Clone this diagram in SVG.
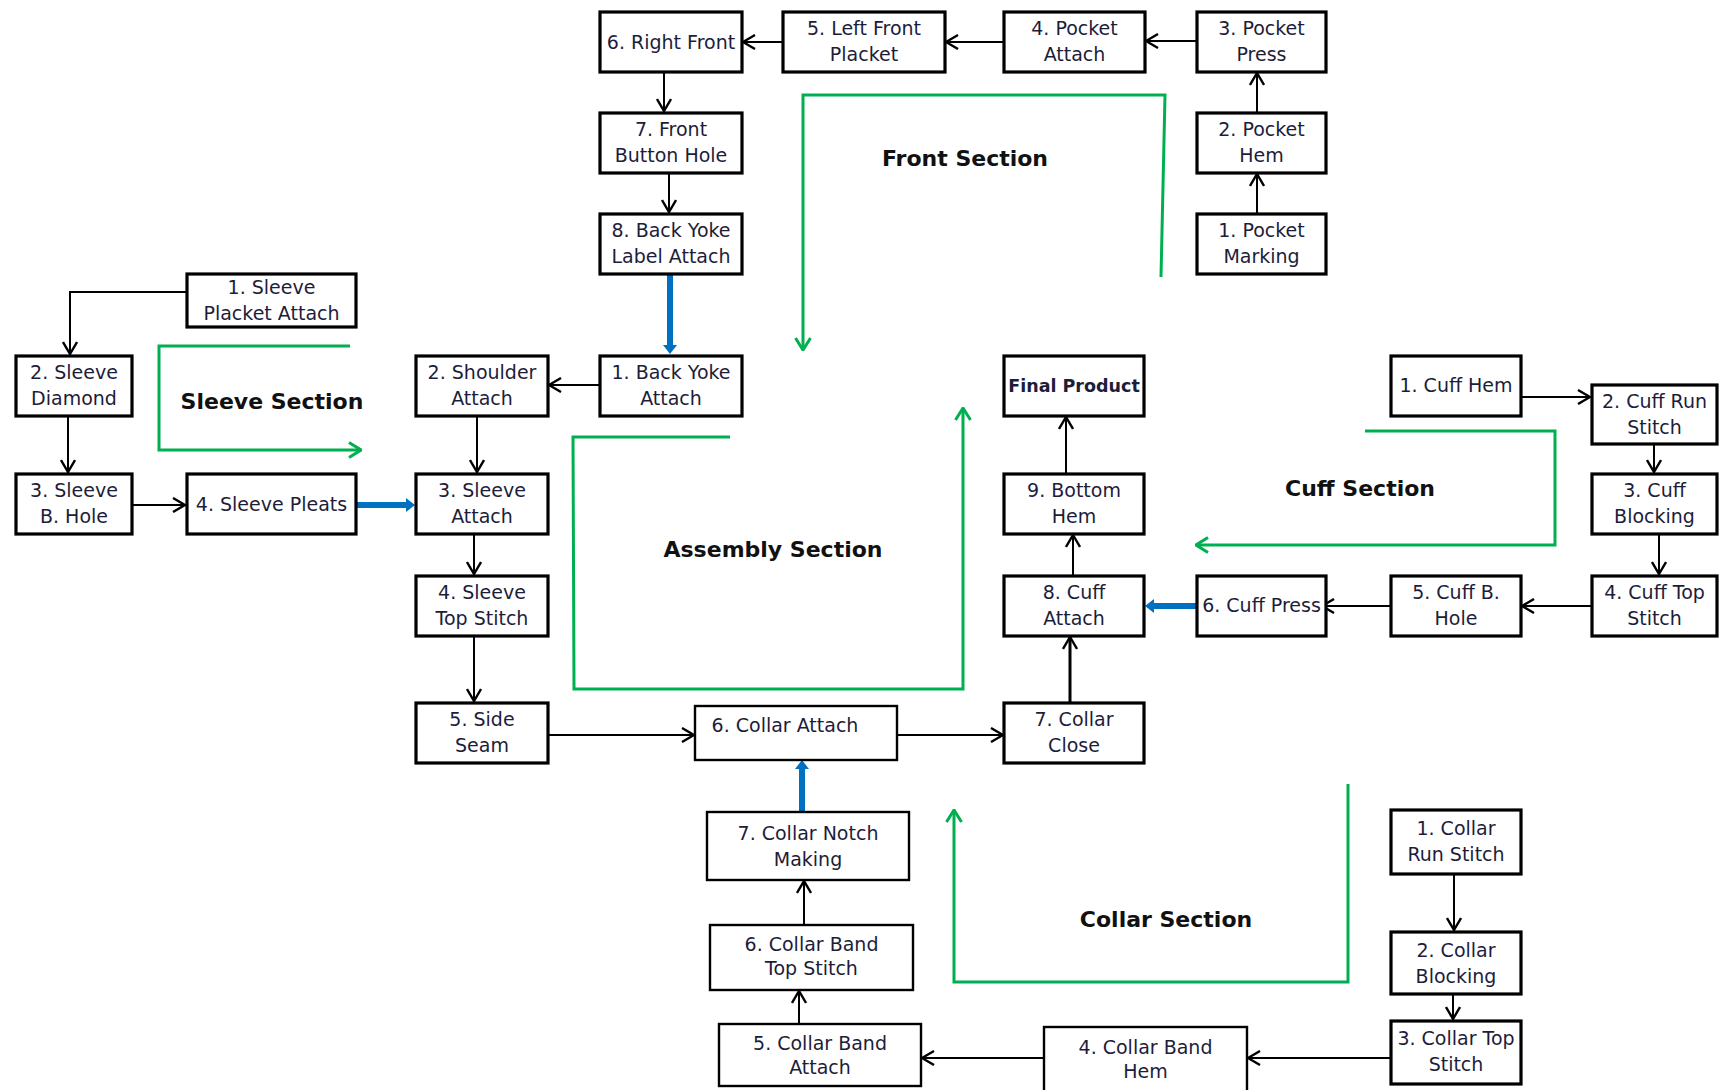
<svg xmlns="http://www.w3.org/2000/svg" width="1720" height="1090" viewBox="0 0 1720 1090">
  <style>
    .box { fill: #fff; stroke: #000; stroke-width: 3.2; }
    .thin { stroke-width: 2.4; }
    .lbl { font-family: "DejaVu Sans", "Liberation Sans", sans-serif; font-size: 19px; fill: #1d1d3a; text-anchor: middle; }
    .bold { font-weight: bold; font-size: 17.5px; }
    .ttl { font-family: "DejaVu Sans", "Liberation Sans", sans-serif; font-size: 22px; font-weight: bold; fill: #111; text-anchor: middle; }
    .ln { fill: none; stroke: #000; stroke-width: 2; marker-end: url(#ah); }
    .ln3 { stroke-width: 3; }
    .blue { fill: none; stroke: #0070C0; stroke-width: 6; marker-end: url(#bh); }
    .grn { fill: none; stroke: #00B050; stroke-width: 3; }
    .grna { marker-end: url(#gh); }
  </style>
  <defs>
    <marker id="ah" viewBox="0 0 14 16" refX="13" refY="8" markerWidth="14" markerHeight="16" markerUnits="userSpaceOnUse" orient="auto">
      <path d="M1,1 L13,8 L1,15" fill="none" stroke="#000" stroke-width="2.4"/>
    </marker>
    <marker id="gh" viewBox="0 0 14 18" refX="13" refY="9" markerWidth="14" markerHeight="18" markerUnits="userSpaceOnUse" orient="auto">
      <path d="M1,1.5 L13,9 L1,16.5" fill="none" stroke="#00B050" stroke-width="3"/>
    </marker>
    <marker id="bh" viewBox="0 0 9 16" refX="0" refY="8" markerWidth="9" markerHeight="16" markerUnits="userSpaceOnUse" orient="auto">
      <path d="M0,1 L9,8 L0,15 z" fill="#0070C0"/>
    </marker>
  </defs>

  <!-- section outlines and titles -->
  <g id="sections">
    <path class="grn grna" d="M1161,277 L1165,95 H803 V350"/>
    <path class="grn grna" d="M350,346 H159 V450 H361"/>
    <path class="grn grna" d="M730,437 H573 L574,689 H963 V408"/>
    <path class="grn grna" d="M1365,431 H1555 V545 H1196"/>
    <path class="grn grna" d="M1348,784 V982 H954 V810"/>
    <text class="ttl" x="965" y="166">Front Section</text>
    <text class="ttl" x="272" y="409">Sleeve Section</text>
    <text class="ttl" x="773" y="557">Assembly Section</text>
    <text class="ttl" x="1360" y="496">Cuff Section</text>
    <text class="ttl" x="1166" y="927">Collar Section</text>
  </g>

  <!-- connectors -->
  <g id="connectors">
    <!-- front -->
    <path class="ln" d="M1257,214 V174"/>
    <path class="ln" d="M1257,113 V73"/>
    <path class="ln" d="M1197,41 H1146"/>
    <path class="ln" d="M1004,42 H946"/>
    <path class="ln" d="M783,42 H743"/>
    <path class="ln" d="M664,72 V111"/>
    <path class="ln" d="M669,173 V212"/>
    <path class="blue" d="M670,274 V345"/>
    <!-- assembly -->
    <path class="ln" d="M600,385 H549"/>
    <path class="ln" d="M477,416 V472"/>
    <path class="ln" d="M474,534 V574"/>
    <path class="ln" d="M474,636 V701"/>
    <path class="ln" d="M548,735 H694"/>
    <path class="ln" d="M897,735 H1003"/>
    <path class="ln ln3" d="M1070,703 V637"/>
    <path class="ln" d="M1073,576 V535"/>
    <path class="ln" d="M1066,474 V417"/>
    <!-- sleeve -->
    <path class="ln" d="M187,292 H70 V354"/>
    <path class="ln" d="M68,416 V472"/>
    <path class="ln" d="M132,505 H185"/>
    <path class="blue" d="M356,505 H406"/>
    <!-- cuff -->
    <path class="ln" d="M1521,397 H1590"/>
    <path class="ln" d="M1654,444 V472"/>
    <path class="ln" d="M1659,534 V574"/>
    <path class="ln" d="M1592,606 H1522"/>
    <path class="ln" d="M1391,606 H1322"/>
    <path class="blue" d="M1197,606 H1154"/>
    <!-- collar -->
    <path class="ln" d="M1454,874 V930"/>
    <path class="ln" d="M1453,994 V1019"/>
    <path class="ln" d="M1391,1058 H1248"/>
    <path class="ln" d="M1044,1058 H922"/>
    <path class="ln" d="M799,1024 V991"/>
    <path class="ln" d="M804,925 V881"/>
    <path class="blue" d="M802,812 V769"/>
  </g>

  <!-- front section -->
  <g id="f6"><rect class="box" x="600" y="12" width="142" height="60"/><text class="lbl" x="671" y="49">6. Right Front</text></g>
  <g id="f5"><rect class="box" x="783" y="12" width="162" height="60"/><text class="lbl" x="864" y="35">5. Left Front</text><text class="lbl" x="864" y="61">Placket</text></g>
  <g id="f4"><rect class="box" x="1004" y="12" width="141" height="60"/><text class="lbl" x="1074.5" y="35">4. Pocket</text><text class="lbl" x="1074.5" y="61">Attach</text></g>
  <g id="f3"><rect class="box" x="1197" y="12" width="129" height="60"/><text class="lbl" x="1261.5" y="35">3. Pocket</text><text class="lbl" x="1261.5" y="61">Press</text></g>
  <g id="f2"><rect class="box" x="1197" y="113" width="129" height="60"/><text class="lbl" x="1261.5" y="136">2. Pocket</text><text class="lbl" x="1261.5" y="162">Hem</text></g>
  <g id="f1"><rect class="box" x="1197" y="214" width="129" height="60"/><text class="lbl" x="1261.5" y="237">1. Pocket</text><text class="lbl" x="1261.5" y="263">Marking</text></g>
  <g id="f7"><rect class="box" x="600" y="113" width="142" height="60"/><text class="lbl" x="671" y="136">7. Front</text><text class="lbl" x="671" y="162">Button Hole</text></g>
  <g id="f8"><rect class="box" x="600" y="214" width="142" height="60"/><text class="lbl" x="671" y="237">8. Back Yoke</text><text class="lbl" x="671" y="263">Label Attach</text></g>

  <!-- assembly section -->
  <g id="a1"><rect class="box" x="600" y="356" width="142" height="60"/><text class="lbl" x="671" y="379">1. Back Yoke</text><text class="lbl" x="671" y="405">Attach</text></g>
  <g id="a2"><rect class="box" x="416" y="356" width="132" height="60"/><text class="lbl" x="482" y="379">2. Shoulder</text><text class="lbl" x="482" y="405">Attach</text></g>
  <g id="a3"><rect class="box" x="416" y="474" width="132" height="60"/><text class="lbl" x="482" y="497">3. Sleeve</text><text class="lbl" x="482" y="523">Attach</text></g>
  <g id="a4"><rect class="box" x="416" y="576" width="132" height="60"/><text class="lbl" x="482" y="599">4. Sleeve</text><text class="lbl" x="482" y="625">Top Stitch</text></g>
  <g id="a5"><rect class="box" x="416" y="703" width="132" height="60"/><text class="lbl" x="482" y="726">5. Side</text><text class="lbl" x="482" y="752">Seam</text></g>
  <g id="a6"><rect class="box thin" x="695" y="706" width="202" height="54"/><text class="lbl" x="785" y="732">6. Collar Attach</text></g>
  <g id="a7"><rect class="box" x="1004" y="703" width="140" height="60"/><text class="lbl" x="1074" y="726">7. Collar</text><text class="lbl" x="1074" y="752">Close</text></g>
  <g id="a8"><rect class="box" x="1004" y="576" width="140" height="60"/><text class="lbl" x="1074" y="599">8. Cuff</text><text class="lbl" x="1074" y="625">Attach</text></g>
  <g id="a9"><rect class="box" x="1004" y="474" width="140" height="60"/><text class="lbl" x="1074" y="497">9. Bottom</text><text class="lbl" x="1074" y="523">Hem</text></g>
  <g id="final"><rect class="box" x="1004" y="356" width="140" height="60"/><text class="lbl bold" x="1074" y="392">Final Product</text></g>

  <!-- sleeve section -->
  <g id="s1"><rect class="box" x="187" y="274" width="169" height="53"/><text class="lbl" x="271.5" y="294">1. Sleeve</text><text class="lbl" x="271.5" y="320">Placket Attach</text></g>
  <g id="s2"><rect class="box" x="16" y="356" width="116" height="60"/><text class="lbl" x="74" y="379">2. Sleeve</text><text class="lbl" x="74" y="405">Diamond</text></g>
  <g id="s3"><rect class="box" x="16" y="474" width="116" height="60"/><text class="lbl" x="74" y="497">3. Sleeve</text><text class="lbl" x="74" y="523">B. Hole</text></g>
  <g id="s4"><rect class="box" x="187" y="474" width="169" height="60"/><text class="lbl" x="271.5" y="511">4. Sleeve Pleats</text></g>

  <!-- cuff section -->
  <g id="c1"><rect class="box" x="1391" y="356" width="130" height="60"/><text class="lbl" x="1456" y="392">1. Cuff Hem</text></g>
  <g id="c2"><rect class="box" x="1592" y="385" width="125" height="59"/><text class="lbl" x="1654.5" y="408">2. Cuff Run</text><text class="lbl" x="1654.5" y="434">Stitch</text></g>
  <g id="c3"><rect class="box" x="1592" y="474" width="125" height="60"/><text class="lbl" x="1654.5" y="497">3. Cuff</text><text class="lbl" x="1654.5" y="523">Blocking</text></g>
  <g id="c4"><rect class="box" x="1592" y="576" width="125" height="60"/><text class="lbl" x="1654.5" y="599">4. Cuff Top</text><text class="lbl" x="1654.5" y="625">Stitch</text></g>
  <g id="c5"><rect class="box" x="1391" y="576" width="130" height="60"/><text class="lbl" x="1456" y="599">5. Cuff B.</text><text class="lbl" x="1456" y="625">Hole</text></g>
  <g id="c6"><rect class="box" x="1197" y="576" width="129" height="60"/><text class="lbl" x="1261.5" y="612">6. Cuff Press</text></g>

  <!-- collar section -->
  <g id="k1"><rect class="box" x="1391" y="810" width="130" height="64"/><text class="lbl" x="1456" y="835">1. Collar</text><text class="lbl" x="1456" y="861">Run Stitch</text></g>
  <g id="k2"><rect class="box" x="1391" y="932" width="130" height="62"/><text class="lbl" x="1456" y="957">2. Collar</text><text class="lbl" x="1456" y="983">Blocking</text></g>
  <g id="k3"><rect class="box" x="1391" y="1021" width="130" height="63"/><text class="lbl" x="1456" y="1045">3. Collar Top</text><text class="lbl" x="1456" y="1071">Stitch</text></g>
  <g id="k4"><rect class="box thin" x="1044" y="1027" width="203" height="66"/><text class="lbl" x="1145.5" y="1054">4. Collar Band</text><text class="lbl" x="1145.5" y="1078">Hem</text></g>
  <g id="k5"><rect class="box thin" x="719" y="1024" width="202" height="62"/><text class="lbl" x="820" y="1050">5. Collar Band</text><text class="lbl" x="820" y="1074">Attach</text></g>
  <g id="k6"><rect class="box thin" x="710" y="925" width="203" height="65"/><text class="lbl" x="811.5" y="951">6. Collar Band</text><text class="lbl" x="811.5" y="975">Top Stitch</text></g>
  <g id="k7"><rect class="box thin" x="707" y="812" width="202" height="68"/><text class="lbl" x="808" y="840">7. Collar Notch</text><text class="lbl" x="808" y="866">Making</text></g>
</svg>
